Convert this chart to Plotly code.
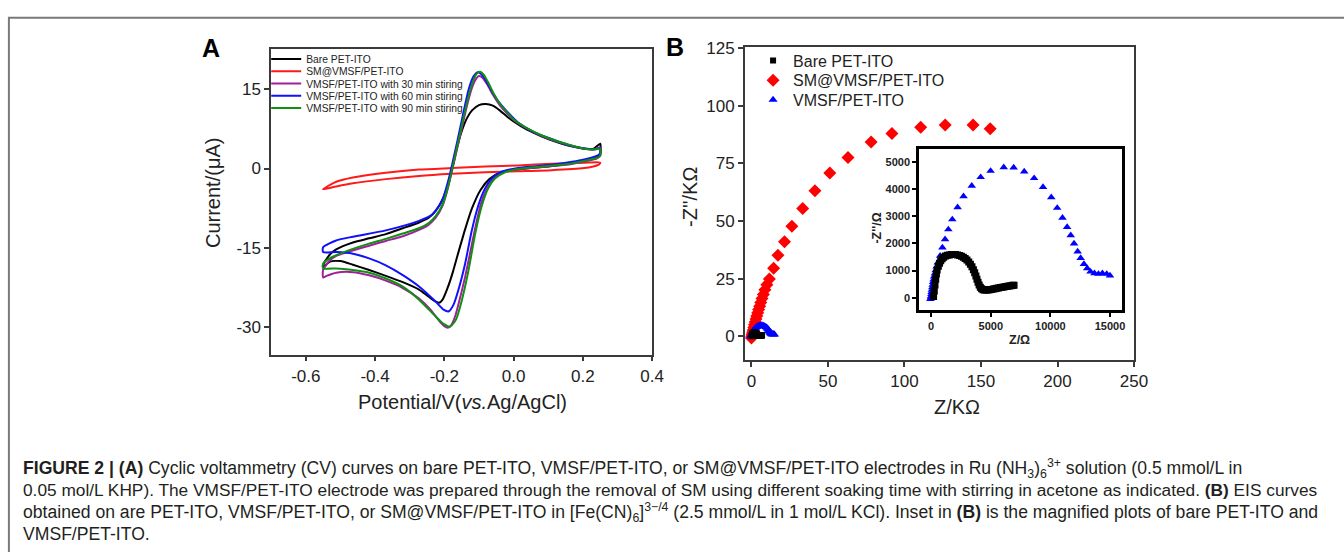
import plotly.graph_objects as go

# ---------------- Panel A : cyclic voltammetry loops (V, µA) ----------------
bare_E = [-0.550, -0.531, -0.512, -0.464, -0.417, -0.369, -0.320, -0.273, -0.245, -0.225, -0.205, -0.190,
          -0.178, -0.165, -0.150, -0.135, -0.120, -0.100, -0.080, -0.060, -0.040, -0.020, 0.000, 0.040,
          0.080, 0.120, 0.160, 0.200, 0.230, 0.250,
          0.250, 0.240, 0.200, 0.150, 0.100, 0.050, 0.000, -0.040, -0.070, -0.095, -0.120, -0.140, -0.160,
          -0.175, -0.190, -0.205, -0.215, -0.230, -0.250, -0.273, -0.320, -0.369, -0.417, -0.464, -0.500,
          -0.530, -0.550, -0.550]
bare_I = [-18.2, -16.3, -15.3, -14.0, -13.2, -12.4, -11.3, -10.2, -9.3, -8.0, -5.8, -3.2,
          -0.2, 3.5, 7.0, 9.5, 11.0, 12.0, 12.2, 11.9, 11.0, 9.9, 8.9, 7.3,
          6.1, 5.1, 4.3, 3.8, 3.7, 4.7,
          3.0, 2.1, 1.4, 0.8, 0.4, 0.1, -0.3, -0.8, -2.0, -4.0, -7.5, -11.5, -16.0,
          -19.5, -22.5, -24.8, -25.4, -25.0, -24.0, -22.9, -21.5, -20.3, -19.2, -18.2, -17.5,
          -17.6, -18.6, -18.2]

sm_E = [-0.550, -0.530, -0.512, -0.464, -0.369, -0.273, -0.178, -0.082, 0.013, 0.109, 0.204, 0.240, 0.250,
        0.245, 0.230, 0.204, 0.109, 0.013, -0.082, -0.178, -0.273, -0.369, -0.464, -0.512, -0.540, -0.550]
sm_I = [-3.9, -3.1, -2.5, -1.7, -0.8, -0.2, 0.1, 0.4, 0.6, 0.9, 1.1, 1.2, 1.1,
        0.7, 0.4, 0.1, -0.3, -0.5, -0.7, -1.0, -1.4, -2.0, -2.8, -3.4, -3.8, -3.9]

s30_E = [-0.550, -0.531, -0.512, -0.464, -0.417, -0.369, -0.320, -0.273, -0.245, -0.225, -0.205, -0.190,
         -0.178, -0.165, -0.150, -0.135, -0.120, -0.108, -0.100, -0.090, -0.075, -0.060, -0.040, -0.020,
         0.000, 0.040, 0.080, 0.120, 0.160, 0.200, 0.230, 0.250,
         0.250, 0.240, 0.200, 0.150, 0.100, 0.050, 0.000, -0.030, -0.055, -0.075, -0.095, -0.110, -0.125,
         -0.140, -0.155, -0.168, -0.180, -0.190, -0.200, -0.215, -0.240, -0.273, -0.320, -0.369, -0.417,
         -0.464, -0.512, -0.540, -0.550, -0.550]
s30_I = [-19.2, -17.4, -16.5, -15.5, -14.6, -13.7, -12.8, -11.6, -10.6, -9.3, -7.0, -3.8,
         -0.5, 3.2, 7.5, 11.8, 15.3, 17.0, 17.5, 17.2, 15.8, 14.0, 12.0, 10.5,
         9.2, 7.5, 6.2, 5.2, 4.4, 3.8, 3.6, 4.0,
         2.4, 1.9, 1.3, 0.7, 0.4, 0.1, -0.2, -0.7, -1.8, -3.6, -6.8, -11.0, -15.8,
         -20.5, -24.6, -27.8, -29.6, -30.1, -29.8, -28.8, -26.7, -24.6, -22.6, -21.2, -20.2,
         -19.6, -19.7, -20.3, -20.6, -19.2]

s60_E = [-0.550, -0.512, -0.464, -0.369, -0.273, -0.235, -0.207, -0.187, -0.178, -0.163, -0.149, -0.130,
         -0.116, -0.103, -0.087, -0.068, -0.044, -0.015, 0.013, 0.061, 0.109, 0.156, 0.204, 0.242, 0.250,
         0.250, 0.204, 0.109, 0.013, -0.035, -0.063, -0.082, -0.101, -0.121, -0.140, -0.159, -0.173,
         -0.187, -0.202, -0.226, -0.273, -0.321, -0.369, -0.417, -0.464, -0.512, -0.550, -0.550]
s60_I = [-14.9, -13.6, -12.9, -11.7, -9.9, -8.7, -6.2, -1.9, 0.6, 5.0, 9.3, 14.9,
         17.4, 18.2, 17.4, 15.2, 12.7, 10.5, 8.7, 6.8, 5.6, 4.5, 3.8, 3.7, 3.9,
         2.8, 1.7, 0.7, 0.1, -0.6, -1.9, -3.7, -6.8, -11.8, -18.0, -22.9, -25.7,
         -27.0, -26.7, -25.1, -22.3, -20.1, -18.3, -17.0, -16.1, -15.8, -15.8, -14.9]

s90_E = [-0.550, -0.531, -0.512, -0.464, -0.417, -0.369, -0.320, -0.273, -0.245, -0.225, -0.205, -0.190,
         -0.178, -0.165, -0.150, -0.135, -0.120, -0.108, -0.098, -0.088, -0.075, -0.060, -0.040, -0.020,
         0.000, 0.040, 0.080, 0.120, 0.160, 0.200, 0.230, 0.250,
         0.250, 0.240, 0.200, 0.150, 0.100, 0.050, 0.013, -0.025, -0.054, -0.073, -0.092, -0.111, -0.130,
         -0.149, -0.166, -0.183, -0.202, -0.226, -0.273, -0.321, -0.369, -0.417, -0.464, -0.512, -0.550,
         -0.550]
s90_I = [-18.0, -17.0, -16.4, -15.2, -14.2, -13.3, -12.3, -11.3, -10.3, -9.0, -6.8, -3.6,
         -0.3, 3.6, 8.0, 12.4, 16.0, 17.8, 18.3, 17.9, 16.5, 14.5, 12.3, 10.7,
         9.3, 7.6, 6.3, 5.3, 4.5, 3.8, 3.6, 3.8,
         2.4, 2.0, 1.4, 0.8, 0.5, 0.2, -0.1, -0.7, -1.9, -3.7, -7.1, -12.4, -19.2,
         -24.8, -28.5, -29.9, -29.4, -27.9, -24.8, -22.3, -20.8, -19.7, -19.2, -18.9, -18.9,
         -18.0]

# ---------------- Panel B : Nyquist plots ----------------
# SM@VMSF/PET-ITO (kΩ)
sm_Zre = [0.0, 0.2, 0.5, 0.8, 1.2, 1.6, 2.0, 2.5, 3.0, 3.5, 4.1, 4.7, 5.4, 6.1, 6.9, 7.8, 8.8, 10.1,
          11.7, 14.5, 17.3, 21.6, 26.4, 33.5, 41.5, 51.2, 63.1, 78.2, 91.8, 110.6, 126.6, 144.8, 156.0]
sm_Zim = [-0.7, 0.0, 0.9, 1.8, 2.8, 3.9, 5.0, 6.2, 7.5, 8.8, 10.2, 11.6, 13.1, 14.7, 16.4, 18.2, 20.2, 22.4,
          24.9, 29.5, 35.2, 41.0, 47.8, 55.4, 63.1, 70.8, 77.6, 84.3, 88.0, 90.7, 91.7, 91.7, 90.0]

# VMSF/PET-ITO (Ω)
vm_Zre = [-60, -30, 0, 20, 40, 60, 90, 120, 160, 200, 250, 310, 380, 460, 553, 750, 941, 1162, 1439,
          1771, 2214, 2712, 3403, 4150, 4981, 6087, 6918, 7803, 8633, 9380, 10072, 10570, 11013, 11400,
          11704, 11981, 12285, 12535, 12811, 13088, 13365, 13697, 14029, 14361, 14721, 14997]
vm_Zim = [-50, 0, 60, 130, 210, 290, 380, 470, 570, 670, 780, 890, 1010, 1140, 1290, 1541, 1845, 2148,
          2512, 2876, 3325, 3726, 4114, 4430, 4660, 4794, 4782, 4636, 4393, 4066, 3689, 3301, 2937, 2597,
          2294, 1990, 1699, 1456, 1238, 1080, 959, 898, 874, 898, 874, 813]

# Bare PET-ITO (Ω)
bare_Zre = [200, 260, 320, 380, 440, 500, 600, 700, 800, 920, 1050, 1200, 1360, 1530, 1700, 1870, 2040,
            2210, 2380, 2540, 2700, 2850, 3000, 3150, 3290, 3420, 3540, 3650, 3750, 3840, 3930, 4020, 4120,
            4230, 4350, 4480, 4620, 4760, 4900, 5050, 5200, 5350, 5500, 5650, 5800, 5950, 6100, 6250, 6400,
            6550, 6700, 6850, 6950]
bare_Zim = [50, 250, 470, 680, 870, 1020, 1160, 1270, 1360, 1430, 1490, 1530, 1560, 1575, 1585, 1590,
            1585, 1575, 1555, 1525, 1490, 1445, 1390, 1315, 1230, 1135, 1030, 915, 800, 680, 570, 470, 390,
            330, 295, 280, 280, 285, 295, 305, 318, 330, 345, 358, 372, 385, 398, 410, 422, 435, 445, 455, 462]

cv_names = ["Bare PET-ITO", "SM@VMSF/PET-ITO", "VMSF/PET-ITO with 30 min stiring",
            "VMSF/PET-ITO with 60 min stiring", "VMSF/PET-ITO with 90 min stiring"]
eis_names = ["Bare PET-ITO", "SM@VMSF/PET-ITO", "VMSF/PET-ITO"]

# ---------------- layout helpers ----------------
W, H = 1344, 552
FONT = "Arial, Liberation Sans, sans-serif"
def fx(p):
    return p / W
def fy(p):
    return 1 - p / H

fig = go.Figure()

cv_sets = [(bare_E, bare_I, "#000000"), (sm_E, sm_I, "#ff1a1a"), (s30_E, s30_I, "#a0209c"),
           (s60_E, s60_I, "#1010ff"), (s90_E, s90_I, "#109010")]
for i, ((ex, iy, col), nm) in enumerate(zip(cv_sets, cv_names)):
    fig.add_trace(go.Scatter(x=ex, y=iy, mode="lines", name=nm,
                             line=dict(color=col, width=2, shape="spline", smoothing=0.6),
                             xaxis="x", yaxis="y", legend="legend" if i == 0 else f"legend{i+1}"))

# Panel B main
fig.add_trace(go.Scatter(x=sm_Zre, y=sm_Zim, mode="markers", name=eis_names[1],
                         marker=dict(symbol="diamond", size=10, color="#ff0000"),
                         xaxis="x2", yaxis="y2", legend="legend7"))
fig.add_trace(go.Scatter(x=[v / 1000 for v in vm_Zre], y=[v / 1000 for v in vm_Zim], mode="markers",
                         name=eis_names[2], marker=dict(symbol="triangle-up", size=8, color="#0000ff"),
                         xaxis="x2", yaxis="y2", legend="legend8"))
fig.add_trace(go.Scatter(x=[v / 1000 for v in bare_Zre], y=[v / 1000 for v in bare_Zim], mode="markers",
                         name=eis_names[0], marker=dict(symbol="square", size=6, color="#000000"),
                         xaxis="x2", yaxis="y2", legend="legend6"))
# Inset
fig.add_trace(go.Scatter(x=vm_Zre, y=vm_Zim, mode="markers", showlegend=False,
                         marker=dict(symbol="triangle-up", size=7.5, color="#0000ff"),
                         xaxis="x3", yaxis="y3"))
fig.add_trace(go.Scatter(x=bare_Zre, y=bare_Zim, mode="markers", showlegend=False,
                         marker=dict(symbol="square", size=7, color="#000000"),
                         xaxis="x3", yaxis="y3"))

axcol = "#3a3a3a"
common = dict(showline=True, mirror=True, linecolor=axcol, linewidth=1.5, ticks="outside", ticklen=5,
              tickwidth=1.5, tickcolor=axcol, showgrid=False, zeroline=False)
inset_ax = dict(showline=True, mirror=True, linecolor="black", linewidth=2.5, ticks="outside", ticklen=4,
                tickwidth=1.5, tickcolor="black", showgrid=False, zeroline=False,
                tickfont=dict(size=11, color="#222", family=FONT, weight="bold"))

lay = dict(
    width=W, height=H, margin=dict(l=0, r=0, t=0, b=0),
    paper_bgcolor="white", plot_bgcolor="white",
    font=dict(family=FONT, color="#222"),
    xaxis=dict(domain=[fx(274), fx(659)], range=[-0.7, 0.4], tickvals=[-0.6, -0.4, -0.2, 0.0, 0.2, 0.4],
               ticktext=["-0.6", "-0.4", "-0.2", "0.0", "0.2", "0.4"], anchor="y",
               tickfont=dict(size=17, color="#222"), **common),
    yaxis=dict(domain=[fy(351.7), fy(41.7)], range=[-35.2, 22.6], tickvals=[-30, -15, 0, 15],
               ticktext=["-30", "-15", "0", "15"], anchor="x",
               tickfont=dict(size=17, color="#222"), **common),
    xaxis2=dict(domain=[fx(752.7), fx(1146)], range=[-4.3, 250], tickvals=[0, 50, 100, 150, 200, 250],
                anchor="y2", tickfont=dict(size=17, color="#222"), **common),
    yaxis2=dict(domain=[fy(357.3), fy(40)], range=[-10.3, 125.3], tickvals=[0, 25, 50, 75, 100, 125],
                anchor="x2", tickfont=dict(size=17, color="#222"), **common),
    xaxis3=dict(domain=[fx(928.7), fx(1134)], range=[-1020, 16020], tickvals=[0, 5000, 10000, 15000],
                ticktext=["0", "5000", "10000", "15000"], anchor="y3", **inset_ax),
    yaxis3=dict(domain=[fy(306.7), fy(142.7)], range=[-460, 5480], tickvals=[0, 1000, 2000, 3000, 4000, 5000],
                ticktext=["0", "1000", "2000", "3000", "4000", "5000"], anchor="x3", **inset_ax),
)

# Legends: one legend per entry to reproduce the tight row spacing of the original
rowsA = [51.7, 64.2, 76.6, 89.0, 101.5]
for i, r in enumerate(rowsA):
    key = "legend" if i == 0 else f"legend{i+1}"
    lay[key] = dict(x=fx(269), y=fy(r), xanchor="left", yanchor="middle", bgcolor="rgba(0,0,0,0)",
                    borderwidth=0, itemwidth=30, tracegroupgap=0,
                    font=dict(size=10.3, family=FONT, color="#222"))
rowsB = {"legend6": 53.3, "legend7": 73.3, "legend8": 93.3}
for key, r in rowsB.items():
    lay[key] = dict(x=fx(761), y=fy(r), xanchor="left", yanchor="middle", bgcolor="rgba(0,0,0,0)",
                    borderwidth=0, itemwidth=30, tracegroupgap=0,
                    font=dict(size=16, family=FONT, color="#222"))

fig.update_layout(**lay)

ann = []
def text(x, y, t, size, bold=False, angle=0, xanchor="center", color="#222"):
    ann.append(dict(x=fx(x), y=fy(y), xref="paper", yref="paper", text=t, showarrow=False,
                    xanchor=xanchor, yanchor="middle", textangle=angle,
                    font=dict(size=size, family=FONT, color=color, weight="bold" if bold else "normal")))

text(213, 41, "A", 25, bold=True, color="black")
text(682, 40, "B", 25, bold=True, color="black")
text(467, 400, "Potential/V(<i>vs.</i>Ag/AgCl)", 20)
text(216, 188, "Current/(μA)", 20, angle=-90)
text(967, 405, "Z/KΩ", 20)
text(697, 192, "-Z''/KΩ", 20, angle=-90)
text(1030, 337, "Z/Ω", 12.5, bold=True)
text(886, 223, "-Z''/Ω", 12.5, bold=True, angle=-90)

cap = [
    "<b>FIGURE 2 | (A)</b> Cyclic voltammetry (CV) curves on bare PET-ITO, VMSF/PET-ITO, or SM@VMSF/PET-ITO "
    "electrodes in Ru (NH<sub>3</sub>)<sub>6</sub><sup>3+</sup> solution (0.5 mmol/L in",
    "0.05 mol/L KHP). The VMSF/PET-ITO electrode was prepared through the removal of SM using different soaking "
    "time with stirring in acetone as indicated. <b>(B)</b> EIS curves",
    "obtained on are PET-ITO, VMSF/PET-ITO, or SM@VMSF/PET-ITO in [Fe(CN)<sub>6</sub>]<sup>3−/4</sup> "
    "(2.5 mmol/L in 1 mol/L KCl). Inset in <b>(B)</b> is the magnified plots of bare PET-ITO and",
    "VMSF/PET-ITO.",
]
cap_sizes = [17.6, 17.3, 17.6, 17.6]
for k, (line, sz) in enumerate(zip(cap, cap_sizes)):
    text(21, 467 + 22.3 * k, line, sz, xanchor="left", color="#231f20")

fig.update_layout(annotations=ann,
                  shapes=[dict(type="rect", xref="paper", yref="paper", x0=fx(9), x1=1.05, y0=-0.05, y1=fy(10),
                               line=dict(color="#7a7a7a", width=2), layer="below")])

fig.write_html("out.html", config={"displayModeBar": False},
               post_script="document.body.style.margin='0px';")
